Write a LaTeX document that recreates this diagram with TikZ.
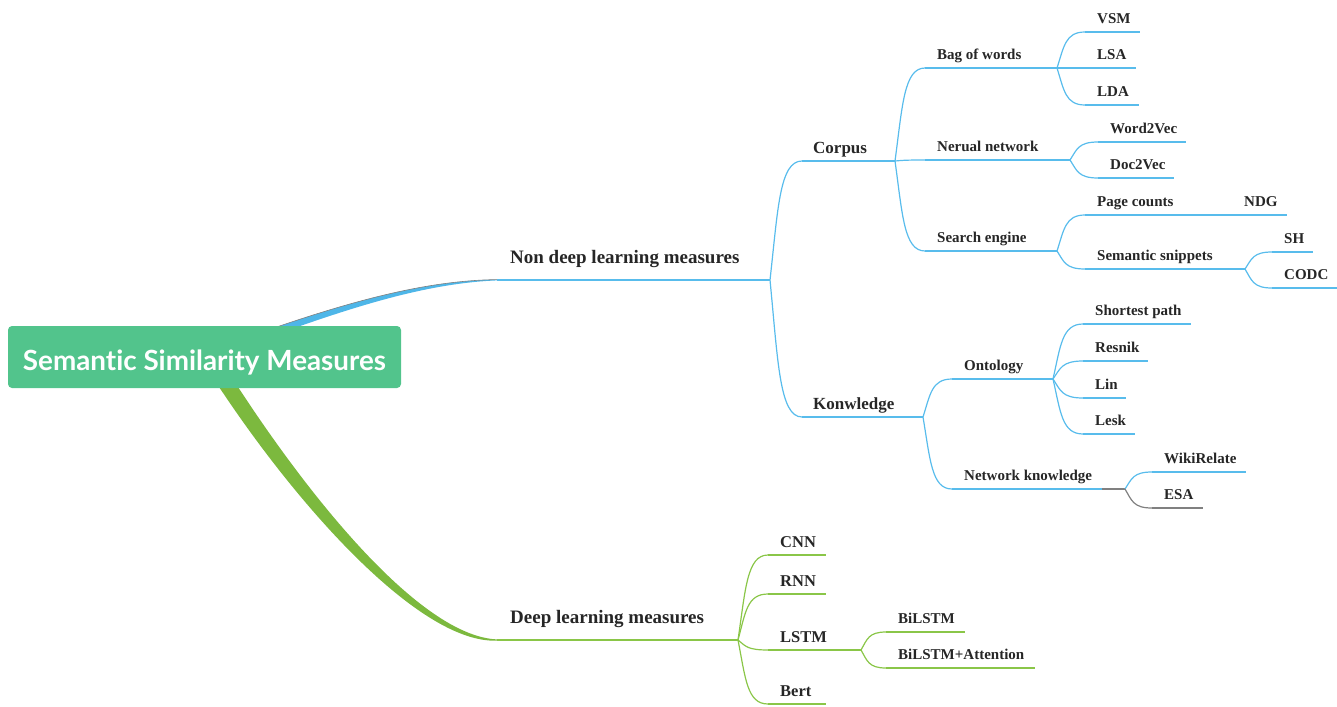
\documentclass[tikz,border=0pt]{standalone}
\usepackage{fontspec}
\setmainfont{Liberation Serif}
\newfontfamily\rootfont[Ligatures=NoCommon]{Lato}
\usetikzlibrary{calc}

\definecolor{rootgreen}{RGB}{82,196,140}
\definecolor{nblue}{RGB}{88,188,236}
\definecolor{thickblue}{RGB}{78,182,232}
\definecolor{dgreen}{RGB}{138,198,72}
\definecolor{thickgreen}{RGB}{124,185,62}
\definecolor{edgegray}{RGB}{128,128,128}
\definecolor{labelc}{RGB}{38,38,38}

\tikzset{
  label base/.style={text=labelc, inner sep=0pt, anchor=base west},
  lvA/.style={label base, font=\fontsize{19}{22}\selectfont\bfseries, xshift=13pt, yshift=17pt},
  lvB/.style={label base, font=\fontsize{17}{20}\selectfont\bfseries, xshift=11pt, yshift=8pt},
  lvD/.style={label base, font=\fontsize{16.5}{19}\selectfont\bfseries, xshift=12pt, yshift=8pt},
  lvC/.style={label base, font=\fontsize{15}{18}\selectfont\bfseries, xshift=12pt, yshift=8.5pt},
  bline/.style={draw=nblue, line width=1.2pt},
  gline/.style={draw=dgreen, line width=1.2pt},
  grayline/.style={draw=edgegray, line width=1.2pt},
  branch/.style={to path={let \p1=(\tikztostart), \p2=(\tikztotarget) in
      .. controls (\x1+0.25*\x2-0.25*\x1, \y1+0.6*\y2-0.6*\y1)
              and (\x1+0.3*\x2-0.3*\x1, \y2) .. (\tikztotarget)}},
  rootbox/.style={fill=rootgreen, rounded corners=4pt, minimum width=393pt,
      minimum height=62pt, inner sep=0pt, text=white,
      font=\rootfont\bfseries\fontsize{27.8}{33}\selectfont},
}

% #1 name, #2 label style, #3 line style, #4 x start, #5 x end, #6 y, #7 text
\newcommand\mmtopic[7]{%
  \coordinate (#1-in) at (#4,#6);
  \coordinate (#1-out) at (#5,#6);
  \draw[#3] (#1-in) -- (#1-out);
  \node[#2] (#1) at (#1-in) {#7};
}

\begin{document}
\begin{tikzpicture}[x=1pt,y=-1pt]
\useasboundingbox (0,0) rectangle (1337,706);

% tapered main branches, drawn beneath the root box
\fill[thickblue] (248.8,336.6) .. controls (338.9,305) and (420,280.5) .. (497,279.6)
  -- (497,280.4) .. controls (420,283.5) and (341.1,311) .. (251.2,343.4) -- cycle;
\draw[edgegray, line width=0.6pt] (248.8,336.6) .. controls (338.9,305) and (420,280.5) .. (497,279.6);
\fill[thickgreen] (208.2,370.3) .. controls (294.4,504.9) and (420,644) .. (497,640.6)
  -- (497,639.4) .. controls (420,636) and (305.6,495.1) .. (221.8,361.7) -- cycle;

% root topic; the baseline sits 13pt below the box centre
\node[rootbox] (root) at (204.5,357) {\raisebox{-13pt}[0pt][0pt]{Semantic Similarity Measures}};

% non deep learning measures
\mmtopic{nondeep}{lvA}{bline}{497}{770}{280}{Non deep learning measures}
\mmtopic{corpus}{lvB}{bline}{802}{895}{161}{Corpus}
\mmtopic{know}{lvB}{bline}{802}{923}{417}{Konwledge}
\draw[bline] (nondeep-out) to[branch] (corpus-in);
\draw[bline] (nondeep-out) to[branch] (know-in);

\mmtopic{bag}{lvC}{bline}{925}{1057}{68}{Bag of words}
\mmtopic{neural}{lvC}{bline}{925}{1070}{160}{Nerual network}
\mmtopic{search}{lvC}{bline}{925}{1057}{251}{Search engine}
\draw[bline] (corpus-out) to[branch] (bag-in);
\draw[bline] (corpus-out) to[branch] (neural-in);
\draw[bline] (corpus-out) to[branch] (search-in);

\mmtopic{vsm}{lvC}{bline}{1085}{1140}{32}{VSM}
\mmtopic{lsa}{lvC}{bline}{1085}{1136}{68}{LSA}
\mmtopic{lda}{lvC}{bline}{1085}{1139}{105}{LDA}
\draw[bline] (bag-out) to[branch] (vsm-in);
\draw[bline] (bag-out) to[branch] (lsa-in);
\draw[bline] (bag-out) to[branch] (lda-in);

\mmtopic{wtv}{lvC}{bline}{1098}{1186}{142}{Word2Vec}
\mmtopic{dtv}{lvC}{bline}{1098}{1174}{178}{Doc2Vec}
\draw[bline] (neural-out) to[branch] (wtv-in);
\draw[bline] (neural-out) to[branch] (dtv-in);

\mmtopic{pages}{lvC}{bline}{1085}{1232}{215}{Page counts}
\mmtopic{ndg}{lvC}{bline}{1232}{1287}{215}{NDG}
\mmtopic{snip}{lvC}{bline}{1085}{1245}{269}{Semantic snippets}
\draw[bline] (search-out) to[branch] (pages-in);
\draw[bline] (search-out) to[branch] (snip-in);
\draw[bline] (pages-out) to[branch] (ndg-in);

\mmtopic{sh}{lvC}{bline}{1272}{1313}{252}{SH}
\mmtopic{codc}{lvC}{bline}{1272}{1337}{288}{CODC}
\draw[bline] (snip-out) to[branch] (sh-in);
\draw[bline] (snip-out) to[branch] (codc-in);

\mmtopic{onto}{lvC}{bline}{952}{1053}{379}{Ontology}
\mmtopic{netk}{lvC}{bline}{952}{1125}{489}{Network knowledge}
\draw[bline] (know-out) to[branch] (onto-in);
\draw[bline] (know-out) to[branch] (netk-in);
\draw[grayline] ($(netk-out)+(-23,0)$) -- (netk-out);

\mmtopic{short}{lvC}{bline}{1083}{1191}{324}{Shortest path}
\mmtopic{resnik}{lvC}{bline}{1083}{1148}{361}{Resnik}
\mmtopic{lin}{lvC}{bline}{1083}{1126}{398}{Lin}
\mmtopic{lesk}{lvC}{bline}{1083}{1135}{434}{Lesk}
\draw[bline] (onto-out) to[branch] (short-in);
\draw[bline] (onto-out) to[branch] (resnik-in);
\draw[bline] (onto-out) to[branch] (lin-in);
\draw[bline] (onto-out) to[branch] (lesk-in);

\mmtopic{wiki}{lvC}{bline}{1152}{1246}{472}{WikiRelate}
\mmtopic{esa}{lvC}{grayline}{1152}{1203}{508}{ESA}
\draw[bline] (netk-out) to[branch] (wiki-in);
\draw[grayline] (netk-out) to[branch] (esa-in);

% deep learning measures
\mmtopic{deep}{lvA}{gline}{497}{738}{640}{Deep learning measures}
\mmtopic{cnn}{lvD}{gline}{768}{826}{555}{CNN}
\mmtopic{rnn}{lvD}{gline}{768}{826}{594}{RNN}
\mmtopic{lstm}{lvD}{gline}{768}{861}{650}{LSTM}
\mmtopic{bert}{lvD}{gline}{768}{826}{704}{Bert}
\draw[gline] (deep-out) to[branch] (cnn-in);
\draw[gline] (deep-out) to[branch] (rnn-in);
\draw[gline] (deep-out) to[branch] (lstm-in);
\draw[gline] (deep-out) to[branch] (bert-in);

\mmtopic{bil}{lvC}{gline}{886}{965}{632}{BiLSTM}
\mmtopic{bila}{lvC}{gline}{886}{1035}{668}{BiLSTM+Attention}
\draw[gline] (lstm-out) to[branch] (bil-in);
\draw[gline] (lstm-out) to[branch] (bila-in);

\end{tikzpicture}
\end{document}
